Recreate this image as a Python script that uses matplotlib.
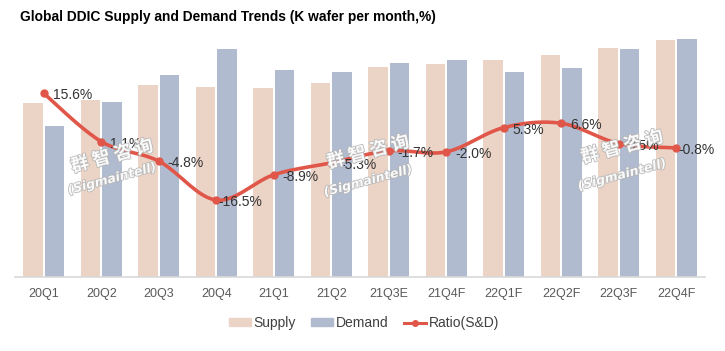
import numpy as np
import matplotlib.pyplot as plt
import matplotlib.patheffects as pe
from matplotlib.lines import Line2D
from matplotlib.patches import Patch

plt.rcParams['font.family'] = ['Liberation Sans', 'DejaVu Sans']

quarters = ["20Q1", "20Q2", "20Q3", "20Q4", "21Q1", "21Q2", "21Q3E", "21Q4F",
            "22Q1F", "22Q2F", "22Q3F", "22Q4F"]
supply = [174, 177, 192, 190, 189, 194, 210, 213, 217, 222, 229, 237]
demand = [151, 175, 202, 228, 207, 205, 214, 217, 205, 209, 228, 238]
ratio = [15.6, 1.1, -4.8, -16.5, -8.9, -5.3, -1.7, -2.0, 5.3, 6.6, 0.5, -0.8]

c_supply = "#ebd4c6"
c_demand = "#b0bbcf"
c_line = "#e0574a"


def smooth(x, y, n=20):
    # catmull-rom style smoothing, like a spreadsheet "smoothed line"
    x = np.asarray(x, float)
    y = np.asarray(y, float)
    px = np.r_[x[0], x, x[-1]]
    py = np.r_[y[0], y, y[-1]]
    xs, ys = [], []
    t = np.linspace(0, 1, n, endpoint=False)
    for i in range(1, len(px) - 2):
        for p, out in ((px, xs), (py, ys)):
            p0, p1, p2, p3 = p[i - 1], p[i], p[i + 1], p[i + 2]
            out.extend(0.5 * ((2 * p1) + (-p0 + p2) * t
                              + (2 * p0 - 5 * p1 + 4 * p2 - p3) * t ** 2
                              + (-p0 + 3 * p1 - 3 * p2 + p3) * t ** 3))
    xs.append(x[-1])
    ys.append(y[-1])
    return np.array(xs), np.array(ys)


fig = plt.figure(figsize=(7.25, 3.51), dpi=100)
ax = fig.add_axes([15 / 725, 1 - 277 / 351, 690 / 725, 247 / 351])
x = np.arange(len(quarters))
w = 0.34
ax.bar(x - 0.19, supply, w, color=c_supply, zorder=2)
ax.bar(x + 0.19, demand, w, color=c_demand, zorder=2)
ax.set_xlim(-0.5, len(quarters) - 0.5)
ax.set_ylim(0, 247)
ax.set_xticks(x)
ax.set_xticklabels(quarters, fontsize=9, color="#595959")
ax.tick_params(axis="x", length=0, pad=8)
ax.set_yticks([])
for s in ["top", "left", "right"]:
    ax.spines[s].set_visible(False)
ax.spines["bottom"].set_color("#d9d9d9")
ax.spines["bottom"].set_linewidth(1.2)

ax2 = ax.twinx()
ax2.set_ylim(-39.65, 34.66)
ax2.set_yticks([])
for s in ax2.spines.values():
    s.set_visible(False)
sx, sy = smooth(x, ratio)
ax2.plot(sx, sy, color=c_line, lw=2.6, zorder=3, solid_capstyle="round")
ax2.plot(x, ratio, "o", color=c_line, ms=5, zorder=4)

for i, v in enumerate(ratio):
    dx = 9
    if quarters[i] in ("20Q4", "22Q4F"):
        dx = 2
    ax2.annotate(f"{v:.1f}%", (x[i], v), xytext=(dx * 0.72, -1.5),
                 textcoords="offset points", ha="left", va="center",
                 fontsize=10, color="#333333", zorder=5)

# watermark
marks = [(112, 156, 179), (368, 152, 181), (622, 147, 175)]
for mx, my1, my2 in marks:
    for txt, my, fs, fam, style, wt in (
            ("群 智 咨 询", my1, 13, ['Noto Sans CJK SC', 'DejaVu Sans'], "normal", "bold"),
            ("(Sigmaintell)", my2, 9, ['DejaVu Sans'], "italic", "bold")):
        fig.text(mx / 725, 1 - my / 351, txt, fontsize=fs, family=fam,
                 style=style, weight=wt, color="white", rotation=15,
                 ha="center", va="center", zorder=6, alpha=0.9,
                 path_effects=[pe.withStroke(linewidth=1.2, foreground="#b5b5b5")])

fig.text(20 / 725, 1 - 17 / 351,
         "Global DDIC Supply and Demand Trends (K wafer per month,%)",
         fontsize=9.9, weight="bold", color="black", ha="left", va="center")

handles = [Patch(color=c_supply), Patch(color=c_demand),
           Line2D([], [], color=c_line, lw=2.2, marker="o", ms=4)]
fig.legend(handles, ["Supply", "Demand", "Ratio(S&D)"], loc="center",
           bbox_to_anchor=(364 / 725, 1 - 323 / 351), ncol=3, frameon=False,
           fontsize=10, labelcolor="#404040", handlelength=1.6,
           handleheight=0.5, handletextpad=0.2, columnspacing=1.1)

fig.savefig("out.png", dpi=100)
